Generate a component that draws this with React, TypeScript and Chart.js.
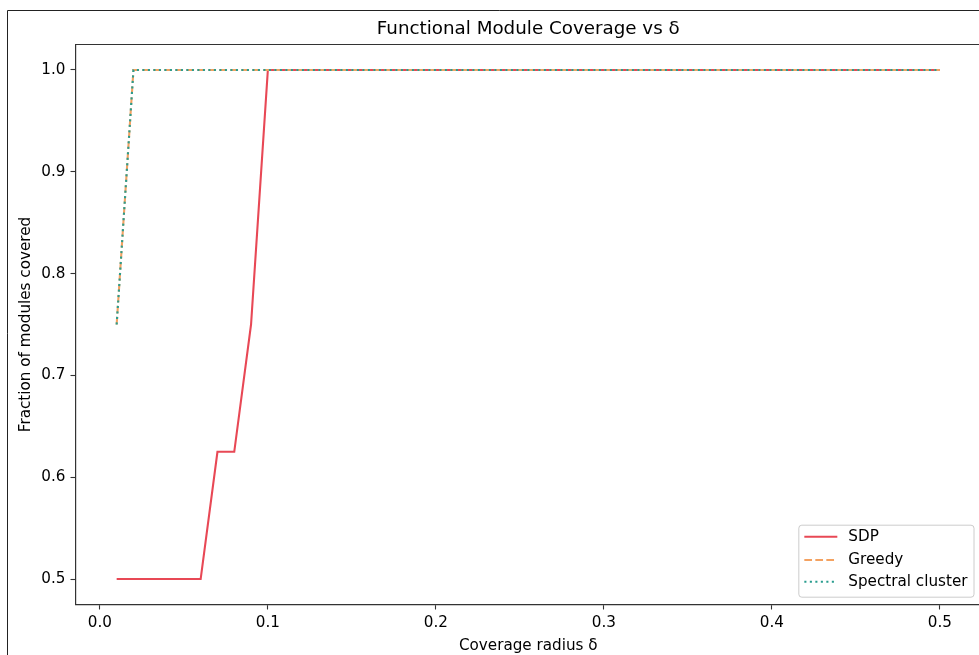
import React, { useEffect, useRef } from "react";
import { Chart, registerables } from "chart.js";

Chart.register(...registerables);

const deltas = [
  0.01, 0.02, 0.03, 0.04, 0.05, 0.06, 0.07, 0.08, 0.09, 0.1,
  0.11, 0.12, 0.13, 0.14, 0.15, 0.16, 0.17, 0.18, 0.19, 0.2,
  0.21, 0.22, 0.23, 0.24, 0.25, 0.26, 0.27, 0.28, 0.29, 0.3,
  0.31, 0.32, 0.33, 0.34, 0.35, 0.36, 0.37, 0.38, 0.39, 0.4,
  0.41, 0.42, 0.43, 0.44, 0.45, 0.46, 0.47, 0.48, 0.49, 0.5,
];

const sdpCoverage = [
  0.5, 0.5, 0.5, 0.5, 0.5, 0.5, 0.625, 0.625, 0.75, 1.0,
  1.0, 1.0, 1.0, 1.0, 1.0, 1.0, 1.0, 1.0, 1.0, 1.0,
  1.0, 1.0, 1.0, 1.0, 1.0, 1.0, 1.0, 1.0, 1.0, 1.0,
  1.0, 1.0, 1.0, 1.0, 1.0, 1.0, 1.0, 1.0, 1.0, 1.0,
  1.0, 1.0, 1.0, 1.0, 1.0, 1.0, 1.0, 1.0, 1.0, 1.0,
];

const greedyCoverage = [
  0.75, 1.0, 1.0, 1.0, 1.0, 1.0, 1.0, 1.0, 1.0, 1.0,
  1.0, 1.0, 1.0, 1.0, 1.0, 1.0, 1.0, 1.0, 1.0, 1.0,
  1.0, 1.0, 1.0, 1.0, 1.0, 1.0, 1.0, 1.0, 1.0, 1.0,
  1.0, 1.0, 1.0, 1.0, 1.0, 1.0, 1.0, 1.0, 1.0, 1.0,
  1.0, 1.0, 1.0, 1.0, 1.0, 1.0, 1.0, 1.0, 1.0, 1.0,
];

const spectralCoverage = [
  0.75, 1.0, 1.0, 1.0, 1.0, 1.0, 1.0, 1.0, 1.0, 1.0,
  1.0, 1.0, 1.0, 1.0, 1.0, 1.0, 1.0, 1.0, 1.0, 1.0,
  1.0, 1.0, 1.0, 1.0, 1.0, 1.0, 1.0, 1.0, 1.0, 1.0,
  1.0, 1.0, 1.0, 1.0, 1.0, 1.0, 1.0, 1.0, 1.0, 1.0,
  1.0, 1.0, 1.0, 1.0, 1.0, 1.0, 1.0, 1.0, 1.0, 1.0,
];

const seriesLabels = ["SDP", "Greedy", "Spectral cluster"];
const xTicks = [0.0, 0.1, 0.2, 0.3, 0.4, 0.5];
const yTicks = [0.5, 0.6, 0.7, 0.8, 0.9, 1.0];
const chartTitle = "Functional Module Coverage vs δ";

const FONT = "'DejaVu Sans', sans-serif";
const SPINE = "#333333";
const TXT = 15.2;

const framePlugin = {
  id: "frame",
  beforeDraw(chart: any) {
    const ctx = chart.ctx;
    ctx.save();
    ctx.fillStyle = "#ffffff";
    ctx.fillRect(0, 0, chart.width, chart.height);
    ctx.strokeStyle = "#222222";
    ctx.lineWidth = 1;
    ctx.beginPath();
    ctx.moveTo(7.5, chart.height + 5);
    ctx.lineTo(7.5, 10.5);
    ctx.lineTo(chart.width + 5, 10.5);
    ctx.stroke();
    ctx.restore();
  },
  afterDatasetsDraw(chart: any) {
    const ctx = chart.ctx;
    const ca = chart.chartArea;
    ctx.save();
    ctx.strokeStyle = SPINE;
    ctx.lineWidth = 1.2;
    ctx.beginPath();
    ctx.moveTo(ca.left, ca.top);
    ctx.lineTo(ca.right, ca.top);
    ctx.lineTo(ca.right, ca.bottom);
    ctx.stroke();
    ctx.restore();
  },
  afterDraw(chart: any) {
    const ctx = chart.ctx;
    const ca = chart.chartArea;
    const ds = chart.data.datasets;
    ctx.save();
    // title centred over the axes
    ctx.font = `18.3px ${FONT}`;
    ctx.fillStyle = "#000000";
    ctx.textAlign = "center";
    ctx.textBaseline = "middle";
    ctx.fillText(chartTitle, (ca.left + ca.right) / 2, 29.5);

    ctx.font = `${TXT}px ${FONT}`;
    let maxW = 0;
    ds.forEach((d: any) => {
      maxW = Math.max(maxW, ctx.measureText(d.label).width);
    });
    const padX = 6;
    const handle = 33;
    const gap = 11;
    const w = padX + handle + gap + maxW + padX;
    const h = 72;
    const right = ca.right - 7.5;
    const bottom = ca.bottom - 7.8;
    const left = right - w;
    const top = bottom - h;
    ctx.beginPath();
    (ctx as any).roundRect(left + 0.5, top + 0.5, w, h, 3);
    ctx.fillStyle = "rgba(255,255,255,0.8)";
    ctx.fill();
    ctx.strokeStyle = "#cccccc";
    ctx.lineWidth = 1;
    ctx.stroke();
    const rows = [12, 35.3, 57];
    ds.forEach((d: any, i: number) => {
      const y = top + rows[i];
      ctx.beginPath();
      ctx.setLineDash(d.borderDash || []);
      ctx.lineCap = "butt";
      ctx.strokeStyle = d.borderColor;
      ctx.lineWidth = d.borderWidth;
      ctx.moveTo(left + padX, y);
      ctx.lineTo(left + padX + handle, y);
      ctx.stroke();
      ctx.setLineDash([]);
      ctx.fillStyle = "#000000";
      ctx.textBaseline = "middle";
      ctx.textAlign = "left";
      ctx.fillText(d.label, left + padX + handle + gap, y);
    });
    ctx.restore();
  },
};

export default function App() {
  const canvasRef = useRef<HTMLCanvasElement | null>(null);

  useEffect(() => {
    const canvas = canvasRef.current;
    if (!canvas) return;
    const mk = (vals: number[]) => deltas.map((x, i) => ({ x, y: vals[i] }));
    const chart = new Chart(canvas, {
      type: "line",
      data: {
        datasets: [
          {
            label: seriesLabels[0],
            data: mk(sdpCoverage),
            borderColor: "#e84855",
            borderWidth: 2.1,
            pointRadius: 0,
            tension: 0,
            borderCapStyle: "butt",
            order: 3,
          },
          {
            label: seriesLabels[1],
            data: mk(greedyCoverage),
            borderColor: "#f4a261",
            borderWidth: 2.1,
            borderDash: [7.7, 3.3],
            pointRadius: 0,
            tension: 0,
            borderCapStyle: "butt",
            order: 2,
          },
          {
            label: seriesLabels[2],
            data: mk(spectralCoverage),
            borderColor: "#2a9d8f",
            borderWidth: 2.1,
            borderDash: [2.1, 3.4],
            pointRadius: 0,
            tension: 0,
            borderCapStyle: "butt",
            order: 1,
          },
        ],
      },
      options: {
        animation: false,
        responsive: false,
        devicePixelRatio: 1,
        layout: { padding: { left: 0, right: 9, top: 44.5, bottom: 0 } },
        plugins: {
          legend: { display: false },
          tooltip: { enabled: false },
          title: { display: false },
        },
        scales: {
          x: {
            type: "linear",
            min: -0.0145,
            max: 0.5245,
            afterBuildTicks: (scale: any) => {
              scale.ticks = xTicks.map((v) => ({ value: v }));
            },
            afterFit: (scale: any) => {
              scale.height = 50.5;
            },
            grid: {
              display: true,
              drawOnChartArea: false,
              drawTicks: true,
              tickLength: 5,
              tickColor: SPINE,
              tickWidth: 1.1,
            },
            border: { display: true, color: SPINE, width: 1.2 },
            ticks: {
              color: "#000000",
              font: { family: FONT, size: TXT },
              padding: 4,
              maxRotation: 0,
              callback: (v: any) => Number(v).toFixed(1),
            },
            title: {
              display: true,
              text: "Coverage radius δ",
              color: "#000000",
              font: { family: FONT, size: TXT },
              padding: { top: 6.9, bottom: 0 },
            },
          },
          y: {
            type: "linear",
            min: 0.475,
            max: 1.025,
            afterBuildTicks: (scale: any) => {
              scale.ticks = yTicks.map((v) => ({ value: v }));
            },
            afterFit: (scale: any) => {
              scale.width = 75.5;
            },
            grid: {
              display: true,
              drawOnChartArea: false,
              drawTicks: true,
              tickLength: 5,
              tickColor: SPINE,
              tickWidth: 1.1,
            },
            border: { display: true, color: SPINE, width: 1.2 },
            ticks: {
              color: "#000000",
              font: { family: FONT, size: TXT },
              padding: 5,
              callback: (v: any) => Number(v).toFixed(1),
            },
            title: {
              display: true,
              text: "Fraction of modules covered",
              color: "#000000",
              font: { family: FONT, size: TXT },
              padding: { top: 16.9, bottom: 0 },
            },
          },
        },
      },
      plugins: [framePlugin],
    } as any);
    return () => chart.destroy();
  }, []);

  return (
    <div
      style={{
        position: "fixed",
        left: 0,
        top: 0,
        width: 979,
        height: 655,
        overflow: "hidden",
        background: "#ffffff",
      }}
    >
      <canvas
        ref={canvasRef}
        width={990}
        height={655}
        style={{ width: 990, height: 655, display: "block" }}
      />
    </div>
  );
}
